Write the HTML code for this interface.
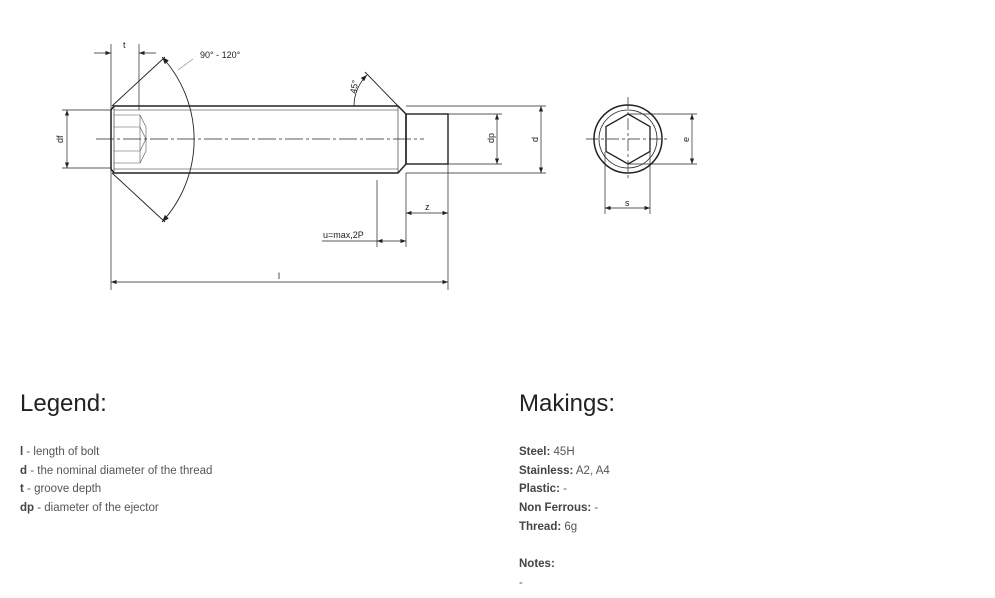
<!DOCTYPE html>
<html><head><style>
body{margin:0;width:995px;height:598px;background:#fff;position:relative;font-family:"Liberation Sans",sans-serif;overflow:hidden}
.h{position:absolute;font-size:24px;color:#222;top:390px}
.l{position:absolute;font-size:11.5px;color:#555;line-height:18.7px}
.l b{color:#444}
</style></head><body>
<svg width="995" height="330" style="position:absolute;left:0;top:0" font-family="Liberation Sans,sans-serif" font-size="9" fill="none" stroke="#222">
<defs><marker id="a" markerWidth="8" markerHeight="6" refX="8" refY="3" orient="auto-start-reverse"><path d="M0,0L8,3L0,6z" fill="#222" stroke="none"/></marker></defs>
<path d="M114,106 L398,106 L406,114 L406,164 L398,173 L114,173 L111,169 L111,110 Z" stroke-width="1.5"/>
<line x1="114" y1="110" x2="398" y2="110" stroke-width=".6"/>
<line x1="114" y1="169" x2="398" y2="169" stroke-width=".6"/>
<line x1="398" y1="106" x2="398" y2="173" stroke-width=".6"/>
<line x1="114" y1="106" x2="114" y2="173" stroke-width=".6"/>
<rect x="406" y="114" width="42" height="50" stroke-width="1.4"/>
<path d="M114,115 L140,115 L146,127 L146,151 L140,163 L114,163 M114,127 L140,127 L146,139 L140,151 L114,151 M140,115 L140,163" stroke-width=".6" stroke="#555"/>
<line x1="96" y1="139" x2="424" y2="139" stroke-width=".8" stroke-dasharray="18,3,3,3"/>
<line x1="112" y1="106" x2="165" y2="57" stroke-width=".9"/>
<line x1="112" y1="173" x2="165" y2="222" stroke-width=".9"/>
<path d="M162,57 A122,122 0 0 1 162,222" stroke-width=".9" marker-start="url(#a)" marker-end="url(#a)"/>
<line x1="178" y1="70" x2="193" y2="59" stroke="#888" stroke-width=".7"/>
<text x="200" y="58" fill="#222" stroke="none">90° - 120°</text>
<line x1="111" y1="44" x2="111" y2="290" stroke-width=".7"/>
<line x1="139" y1="44" x2="139" y2="110" stroke-width=".7"/>
<line x1="94" y1="53" x2="111" y2="53" stroke-width=".7" marker-end="url(#a)"/>
<line x1="156" y1="53" x2="139" y2="53" stroke-width=".7" marker-end="url(#a)"/>
<text x="123" y="48" fill="#222" stroke="none">t</text>
<line x1="62" y1="110" x2="111" y2="110" stroke-width=".7"/>
<line x1="62" y1="168" x2="111" y2="168" stroke-width=".7"/>
<line x1="67" y1="110" x2="67" y2="168" stroke-width=".7" marker-start="url(#a)" marker-end="url(#a)"/>
<text transform="translate(63,143) rotate(-90)" fill="#222" stroke="none">df</text>
<line x1="398" y1="106" x2="365" y2="72" stroke-width=".9"/>
<path d="M354,106 A44,44 0 0 1 367,75" stroke-width=".8" marker-end="url(#a)"/>
<text transform="translate(356,94) rotate(-80)" fill="#222" stroke="none">45°</text>
<line x1="448" y1="114" x2="502" y2="114" stroke-width=".7"/>
<line x1="448" y1="164" x2="502" y2="164" stroke-width=".7"/>
<line x1="497" y1="114" x2="497" y2="164" stroke-width=".7" marker-start="url(#a)" marker-end="url(#a)"/>
<text transform="translate(494,143) rotate(-90)" fill="#222" stroke="none">dp</text>
<line x1="406" y1="106" x2="546" y2="106" stroke-width=".7"/>
<line x1="406" y1="173" x2="546" y2="173" stroke-width=".7"/>
<line x1="541" y1="106" x2="541" y2="173" stroke-width=".7" marker-start="url(#a)" marker-end="url(#a)"/>
<text transform="translate(538,142) rotate(-90)" fill="#222" stroke="none">d</text>
<line x1="406" y1="173" x2="406" y2="247" stroke-width=".7"/>
<line x1="448" y1="164" x2="448" y2="290" stroke-width=".7"/>
<line x1="427" y1="213" x2="406" y2="213" stroke-width=".7" marker-end="url(#a)"/>
<line x1="427" y1="213" x2="448" y2="213" stroke-width=".7" marker-end="url(#a)"/>
<text x="425" y="210" fill="#222" stroke="none">z</text>
<line x1="377" y1="180" x2="377" y2="247" stroke-width=".7"/>
<line x1="377" y1="241" x2="406" y2="241" stroke-width=".7" marker-start="url(#a)" marker-end="url(#a)"/>
<line x1="322" y1="241" x2="377" y2="241" stroke-width=".7"/>
<text x="323" y="238" fill="#222" stroke="none">u=max,2P</text>
<line x1="111" y1="282" x2="448" y2="282" stroke-width=".7" marker-start="url(#a)" marker-end="url(#a)"/>
<text x="278" y="279" fill="#222" stroke="none">l</text>
<circle cx="628" cy="139" r="34" stroke-width="1.5"/>
<circle cx="628" cy="139" r="29" stroke-width=".8"/>
<polygon points="628,114 650,126.5 650,151.5 628,164 606,151.5 606,126.5" stroke-width="1.3"/>
<line x1="586" y1="139" x2="670" y2="139" stroke-width=".7" stroke-dasharray="12,3,3,3"/>
<line x1="628" y1="97" x2="628" y2="181" stroke-width=".7" stroke-dasharray="12,3,3,3"/>
<line x1="628" y1="114" x2="697" y2="114" stroke-width=".7"/>
<line x1="628" y1="164" x2="697" y2="164" stroke-width=".7"/>
<line x1="692" y1="114" x2="692" y2="164" stroke-width=".7" marker-start="url(#a)" marker-end="url(#a)"/>
<text transform="translate(689,142) rotate(-90)" fill="#222" stroke="none">e</text>
<line x1="605" y1="152" x2="605" y2="214" stroke-width=".7"/>
<line x1="650" y1="152" x2="650" y2="214" stroke-width=".7"/>
<line x1="605" y1="208" x2="650" y2="208" stroke-width=".7" marker-start="url(#a)" marker-end="url(#a)"/>
<text x="625" y="206" fill="#222" stroke="none">s</text>
</svg>
<div class="h" style="left:20px">Legend:</div>
<div class="h" style="left:519px">Makings:</div>
<div class="l" style="left:20px;top:443px"><b>l</b> - length of bolt<br><b>d</b> - the nominal diameter of the thread<br><b>t</b> - groove depth<br><b>dp</b> - diameter of the ejector</div>
<div class="l" style="left:519px;top:443px"><b>Steel:</b> 45H<br><b>Stainless:</b> A2, A4<br><b>Plastic:</b> -<br><b>Non Ferrous:</b> -<br><b>Thread:</b> 6g<br><br><b>Notes:</b><br>-</div>
</body></html>
